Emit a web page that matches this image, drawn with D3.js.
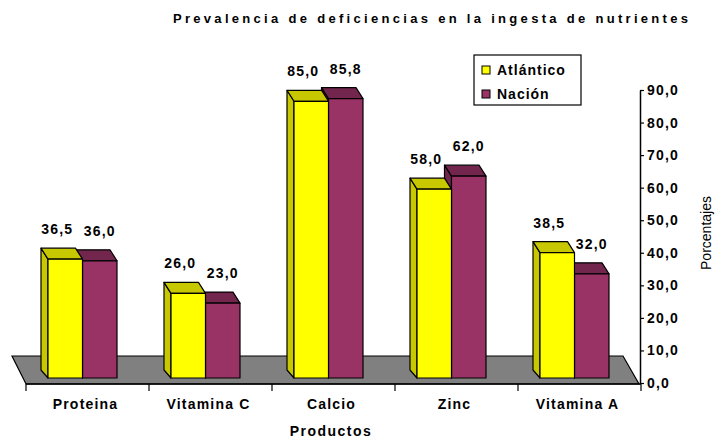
<!DOCTYPE html>
<html>
<head>
<meta charset="utf-8">
<script src="https://cdn.jsdelivr.net/npm/d3@7"></script>
<style>
  body { margin: 0; background: #fff; }
  text { font-family: "Liberation Sans", Arial, sans-serif; }
</style>
</head>
<body>
<div id="chart"></div>
<script>
const categories = ["Proteina", "Vitamina C", "Calcio", "Zinc", "Vitamina A"];
const series = ["Atlántico", "Nación"];
const atlantico = [36.5, 26.0, 85.0, 58.0, 38.5];
const nacion = [36.0, 23.0, 85.8, 62.0, 32.0];
const yTicks = [0, 10, 20, 30, 40, 50, 60, 70, 80, 90];

const width = 717, height = 438;

const svg = d3.select("#chart")
  .append("svg")
  .attr("width", width)
  .attr("height", height);

const fmt = d => d.toFixed(1).replace(".", ",");

// colours: front face / top+side face, and label shift
const colors = {
  "Atlántico": { front: "#ffff00", dark: "#c8c800", shift: -8 },
  "Nación": { front: "#993366", dark: "#73264d", shift: 0 }
};

let x = d3.scaleBand().domain(categories).range([26, 641]);
let x1 = d3.scaleBand().domain(series).range([0, 69]);
let y = d3.scaleLinear().domain([0, 90]).range([383, 90]);

const lift = -5;          // bars stand a little above axis zero
const dx = -7, dy = -11;  // 3d depth offset

// gray floor
const f0 = x.range()[0], f1 = x.range()[1], fy = y(0) + 1;
svg.append("polygon")
  .attr("points", [[f0 - 14, fy - 28], [f1 - 18, fy - 28], [f1 - 2, fy], [f0, fy]].join(" "))
  .attr("fill", "#808080")
  .attr("stroke", "#000")
  .attr("stroke-width", 1.2);

// rows of data per category
let rows = categories.map((c, i) => ({ cat: c, "Atlántico": atlantico[i], "Nación": nacion[i] }));

for (let r of rows) {
  // draw Nación first so the yellow bar covers its left side
  for (let s of ["Nación", "Atlántico"]) {
    let v = r[s];
    let x0 = x(r.cat) + 22 + x1(s);
    let w = x1.bandwidth();
    let yt = y(v) + lift, yb = y(0) + lift;
    let g = svg.append("g").attr("stroke", "#000").attr("stroke-width", 1.2).attr("stroke-linejoin", "round");

    g.append("polygon") // side
      .attr("points", [[x0, yb], [x0, yt], [x0 + dx, yt + dy], [x0 + dx, yb + dy + 3]].join(" "))
      .attr("fill", colors[s].dark);
    g.append("polygon") // top
      .attr("points", [[x0, yt], [x0 + w, yt], [x0 + w + dx, yt + dy], [x0 + dx, yt + dy]].join(" "))
      .attr("fill", colors[s].dark);
    g.append("rect") // front
      .attr("x", x0).attr("y", yt)
      .attr("width", w).attr("height", yb - yt)
      .attr("fill", colors[s].front);
  }
}

// value labels
for (let r of rows) {
  for (let s of series) {
    let v = r[s];
    svg.append("text")
      .attr("x", x(r.cat) + 22 + x1(s) + x1.bandwidth() / 2 + colors[s].shift)
      .attr("y", y(v) + lift + dy - 14)
      .attr("text-anchor", "middle")
      .attr("font-size", 14)
      .attr("font-weight", "bold")
      .attr("letter-spacing", 1.2)
      .text(fmt(v));
  }
}

// x axis
svg.append("line")
  .attr("x1", f0).attr("x2", f1)
  .attr("y1", fy).attr("y2", fy)
  .attr("stroke", "#000").attr("stroke-width", 1.5);

svg.selectAll(".xtick")
  .data(categories.map(c => x(c)).concat([f1]))
  .join("line")
  .attr("class", "xtick")
  .attr("x1", d => d).attr("x2", d => d)
  .attr("y1", fy).attr("y2", fy + 7)
  .attr("stroke", "#000").attr("stroke-width", 1.2);

let xAxis = svg.append("g")
  .attr("transform", `translate(0,${fy})`)
  .call(d3.axisBottom(x).tickSize(0).tickPadding(15));
xAxis.select(".domain").remove();
xAxis.selectAll("text")
  .attr("font-family", null)
  .attr("font-size", 14)
  .attr("font-weight", "bold")
  .attr("letter-spacing", 1.2)
  .attr("fill", "#000")
  .attr("dx", -2);

// y axis on the right
let yAxis = svg.append("g")
  .attr("transform", "translate(640,0)")
  .call(d3.axisRight(y)
    .tickValues(yTicks)
    .tickSize(4)
    .tickSizeOuter(0)
    .tickPadding(3)
    .tickFormat(fmt));
yAxis.select(".domain").attr("stroke-width", 1.5);
yAxis.selectAll("line").attr("stroke-width", 1.2);
yAxis.selectAll("text")
  .attr("font-family", null)
  .attr("font-size", 14)
  .attr("font-weight", "bold")
  .attr("letter-spacing", 1.2)
  .attr("fill", "#000");

// titles
svg.append("text")
  .attr("x", 173).attr("y", 23)
  .attr("font-size", 13)
  .attr("font-weight", "bold")
  .attr("textLength", 515)
  .attr("lengthAdjust", "spacing")
  .text("Prevalencia de deficiencias en la ingesta de nutrientes");

svg.append("text")
  .attr("x", 331).attr("y", 436)
  .attr("text-anchor", "middle")
  .attr("font-size", 14)
  .attr("font-weight", "bold")
  .attr("letter-spacing", 1.5)
  .text("Productos");

svg.append("text")
  .attr("transform", "translate(711,233) rotate(-90)")
  .attr("text-anchor", "middle")
  .attr("font-size", 14)
  .text("Porcentajes");

// legend
let legend = svg.append("g").attr("transform", "translate(474,55)");
legend.append("rect")
  .attr("width", 107).attr("height", 50)
  .attr("fill", "#fff").attr("stroke", "#000").attr("stroke-width", 1.2);

series.forEach((s, i) => {
  let item = legend.append("g").attr("transform", `translate(8,${11 + i * 24})`);
  item.append("rect")
    .attr("width", 8).attr("height", 8)
    .attr("fill", colors[s].front)
    .attr("stroke", "#000");
  item.append("text")
    .attr("x", 15).attr("y", 8.5)
    .attr("font-size", 14)
    .attr("font-weight", "bold")
    .attr("letter-spacing", 1)
    .text(s);
});
</script>
</body>
</html>
